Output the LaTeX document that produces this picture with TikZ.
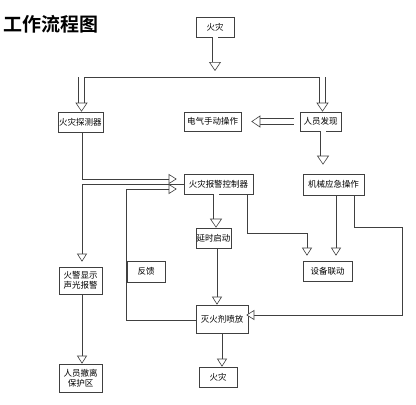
\documentclass[tikz,border=0pt]{standalone}
\usepackage{fontspec}
\setmainfont{Noto Sans CJK SC}
\newfontfamily\cjkbold[BoldFont={Noto Sans CJK SC Bold}]{Noto Sans CJK SC}
\usetikzlibrary{arrows.meta,calc}

\tikzset{
	box/.style={draw=black!75, line width=0.6pt, inner sep=0pt, font=\fontsize{8.5}{10}\selectfont, align=center},
	tri/.style={draw=black!75, line width=0.6pt, -{Triangle[open, fill=white, length=8pt, width=10pt]}},
	dbl/.style={draw=black!75, line width=0.6pt, double, double distance=5pt, -{Triangle[open, fill=white, line width=0.6pt, length=9pt, width=12pt]}}
}

\begin{document}
\begin{tikzpicture}[x=1pt, y=-1pt]
		\useasboundingbox (0,0) rectangle (416,405);
		% Title
		\node (title) at (51.5,24) {\cjkbold\bfseries\fontsize{19}{19}\selectfont 工作流程图};
		
		% Boxes
		\node[box, minimum width=38pt, minimum height=20pt] (fire1) at (215,27) {火灾};
		\node[box, minimum width=45pt, minimum height=20pt] (det) at (80.5,122) {火灾探测器};
		\node[box, minimum width=57pt, minimum height=19pt] (manual) at (212.5,121.5) {电气手动操作};
		\node[box, minimum width=41pt, minimum height=19pt] (person) at (320.5,121.5) {人员发现};
		\node[box, minimum width=69pt, minimum height=20pt] (ctrl) at (218.5,184) {火灾报警控制器};
		\node[box, minimum width=61pt, minimum height=21pt] (mech) at (333.5,184.5) {机械应急操作};
		\node[box, minimum width=35pt, minimum height=20pt] (delay) at (213.5,238) {延时启动};
		\node[box, minimum width=49pt, minimum height=20pt] (equip) at (327.5,271) {设备联动};
		\node[box, minimum width=38pt, minimum height=21pt] (feedback) at (146,271.5) {反馈};
		\node[box, minimum width=43pt, minimum height=27pt] (alarm) at (80.5,280.5) {火警显示\\声光报警};
		\node[box, minimum width=52pt, minimum height=28pt] (spray) at (222,319) {灭火剂喷放};
		\node[box, minimum width=43pt, minimum height=28pt] (evac) at (80.5,378) {人员撤离\\保护区};
		\node[box, minimum width=38pt, minimum height=20pt] (fire2) at (218,377) {火灾};
		
		% Bus line
		\coordinate (busl) at (79,77);
		\coordinate (busr) at (325.5,77);
		\coordinate (bus) at (215,77);
		\coordinate (dropl) at (81.5,77);
		\coordinate (dropr) at (322.5,77);
		\draw[draw=black!75, line width=0.6pt] (busl) -- (busr);
		\draw[dbl, shorten >=6pt] (fire1.south) -- (bus);
		\draw[dbl] (dropl) -- (dropl |- det.north);
		\draw[dbl] (dropr) -- (dropr |- person.north);
		
		% Upper arrows
		\draw[dbl, shorten <=6pt, shorten >=10pt] (person.west) -- (manual.east);
		\draw[dbl, shorten >=9pt] ([xshift=2.5pt]person.south) -- ([xshift=-10.5pt]mech.north);
		
		% Controller links
		\draw[tri, shorten >=7pt] ([xshift=1.5pt]det.south) |- ([yshift=5pt]ctrl.west);
		\draw[tri, shorten >=5pt] (ctrl.west) -| ([xshift=1.5pt]alarm.north);
		\draw[tri] ([xshift=1.5pt]alarm.south) -- ([xshift=1.5pt]evac.north);
		\draw[tri, shorten >=7pt] ([yshift=-1pt]spray.west) -| ([yshift=-5pt]ctrl.west -| feedback.west) -- ([yshift=-5pt]ctrl.west);
		\draw[dbl] ([xshift=-2.5pt]ctrl.south) -- ([xshift=2.5pt]delay.north);
		\draw[tri] ([xshift=3.5pt]delay.south) -- ([xshift=-5pt]spray.north);
		\draw[tri] (spray.south) -- (spray.south |- fire2.north);
		\draw[tri, shorten >=5pt] ([xshift=28.5pt]ctrl.south) -- ++(0,39) -| ([xshift=-20.5pt]equip.north);
		\draw[tri, shorten >=5pt] ([xshift=2.5pt]mech.south) -- ([xshift=8.5pt]equip.north);
		
		% Right loop
		\coordinate (rtop) at (402,227);
		\coordinate (rbot) at (402,315);
		\draw[tri, shorten >=-2pt] ([xshift=20.5pt]mech.south) |- (rtop) -- (rbot) -- (spray.east |- rbot);
	\end{tikzpicture}
\end{document}
